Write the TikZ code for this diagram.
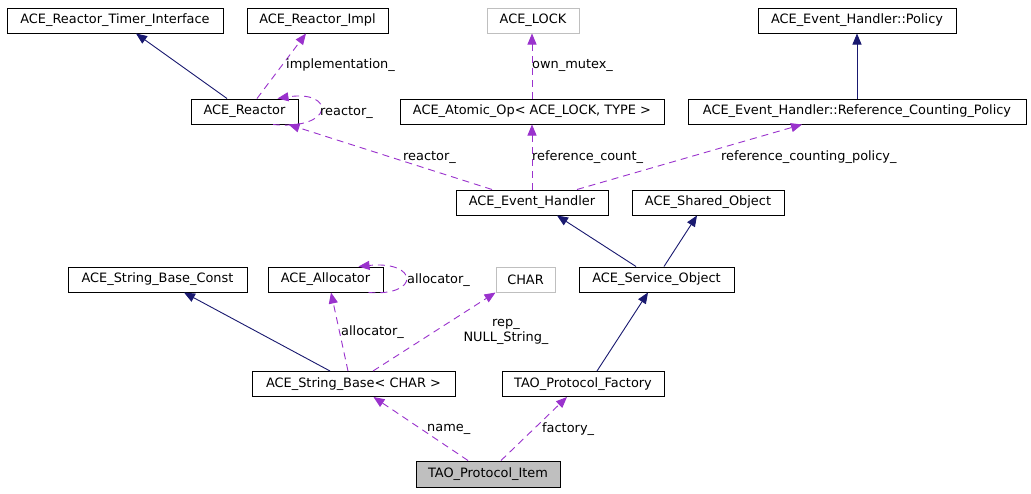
\documentclass[tikz,border=0pt]{standalone}
\usepackage{fontspec}
\setmainfont{DejaVu Sans}
\usetikzlibrary{arrows.meta}
\definecolor{navyc}{HTML}{191970}
\definecolor{purp}{HTML}{9A32CD}
\definecolor{grayb}{HTML}{BFBFBF}
\begin{document}
\begin{tikzpicture}[x=1pt,y=-1pt,
  every node/.style={font=\fontsize{12.9}{15}\selectfont, inner sep=0pt},
  box/.style={draw=black, line width=1pt, minimum height=25pt, fill=white},
  graybox/.style={draw=grayb, line width=1pt, minimum height=25pt, fill=white},
  lbl/.style={anchor=west},
  inh/.style={draw=navyc, line width=0.9pt, -{Triangle[length=11pt,width=9pt]}},
  use/.style={draw=purp, line width=0.9pt, dash pattern=on 7pt off 5pt, -{Triangle[length=11pt,width=9pt]}}
]
\useasboundingbox[fill=white] (0,0) rectangle (1031,493);

% nodes
\node[box, minimum width=216pt] (rti) at (115,20.5) {ACE\_Reactor\_Timer\_Interface};
\node[box, minimum width=141pt] (impl) at (317.5,20.5) {ACE\_Reactor\_Impl};
\node[graybox, minimum width=92pt] (lock) at (533,20.5) {ACE\_LOCK};
\node[box, minimum width=198pt] (policy) at (857,20.5) {ACE\_Event\_Handler::Policy};
\node[box, minimum width=107pt] (reactor) at (244.5,111.5) {ACE\_Reactor};
\node[box, minimum width=264pt] (atomic) at (532,111.5) {ACE\_Atomic\_Op< ACE\_LOCK, TYPE >};
\node[box, minimum width=338pt] (rcp) at (857,111.5) {ACE\_Event\_Handler::Reference\_Counting\_Policy};
\node[box, minimum width=152pt] (eh) at (532,202.5) {ACE\_Event\_Handler};
\node[box, minimum width=152pt] (shared) at (708,202.5) {ACE\_Shared\_Object};
\node[box, minimum width=179pt] (sbc) at (157.5,279.5) {ACE\_String\_Base\_Const};
\node[box, minimum width=115pt] (alloc) at (325.5,279.5) {ACE\_Allocator};
\node[graybox, minimum width=59pt] (char) at (525.5,279.5) {CHAR};
\node[box, minimum width=155pt] (service) at (656.5,279.5) {ACE\_Service\_Object};
\node[box, minimum width=203pt] (sb) at (353.5,384) {ACE\_String\_Base< CHAR >};
\node[box, minimum width=162pt] (factory) at (583,384) {TAO\_Protocol\_Factory};
\node[box, minimum width=144pt, minimum height=26pt, fill=grayb] (item) at (488,474) {TAO\_Protocol\_Item};

% inheritance edges
\draw[inh] ([xshift=-17.5pt]reactor.north) -- ([xshift=21pt]rti.south);
\draw[inh] (rcp.north) -- (policy.south);
\draw[inh] ([xshift=-20.5pt]service.north) -- ([xshift=25pt]eh.south);
\draw[inh] ([xshift=7.5pt]service.north) -- ([xshift=-11pt]shared.south);
\draw[inh] ([xshift=-23.5pt]sb.north) -- ([xshift=26.5pt]sbc.south);
\draw[inh] ([xshift=14pt]factory.north) -- ([xshift=-8.5pt]service.south);

% usage edges
\draw[use] ([xshift=12.5pt]reactor.north) -- ([xshift=-11.5pt]impl.south);
\draw[use] ([xshift=-25.5pt]reactor.south east) .. controls +(62,6) and +(58,-9) .. ([xshift=-21pt]reactor.north east);
\draw[use] ([xshift=-40pt]eh.north) -- ([xshift=-10pt]reactor.south east);
\draw[use] (eh.north) -- (atomic.south);
\draw[use] ([xshift=45pt]eh.north) -- ([xshift=-55pt]rcp.south);
\draw[use] (atomic.north) -- (atomic.north |- lock.south);
\draw[use] ([xshift=-5.5pt]sb.north) -- ([xshift=5.5pt]alloc.south);
\draw[use] ([xshift=-15pt]alloc.south east) .. controls +(52,4) and +(60,-6) .. ([xshift=-25pt]alloc.north east);
\draw[use] ([xshift=19.5pt]sb.north) -- (char.south west);
\draw[use] ([xshift=-20pt]item.north) -- ([xshift=20pt]sb.south);
\draw[use] ([xshift=13pt]item.north) -- ([xshift=-16pt]factory.south);

% labels
\node[lbl] (limpl) at (286,65) {implementation\_};
\node[lbl] (lrself) at (320,112) {reactor\_};
\node[lbl] (lmutex) at (532,65) {own\_mutex\_};
\node[lbl] (lreactor) at (403,157) {reactor\_};
\node[lbl] (lrefc) at (532,157) {reference\_count\_};
\node[lbl] (lrcp) at (721,157) {reference\_counting\_policy\_};
\node[lbl] (laself) at (407,280) {allocator\_};
\node[lbl] (lalloc) at (341,332) {allocator\_};
\node[align=center] (lrep) at (506,332) {rep\_\\NULL\_String\_};
\node[lbl] (lname) at (427,429) {name\_};
\node[lbl] (lfact) at (542,429) {factory\_};
\end{tikzpicture}
\end{document}
